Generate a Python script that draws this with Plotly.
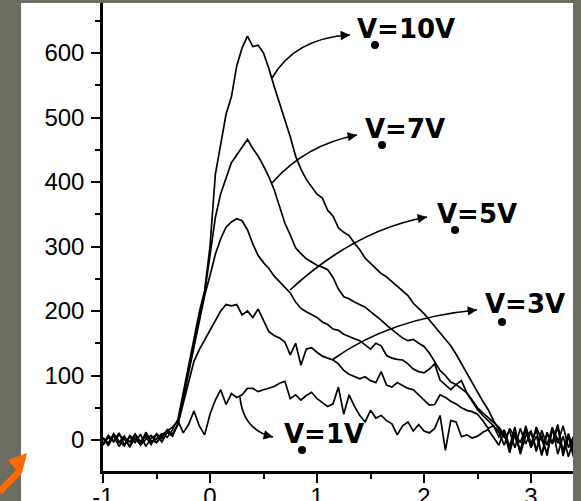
import numpy as np
import plotly.graph_objects as go

# ---------------- data ----------------
# shared sampling grid (x in the original units)
x = np.round(np.linspace(-1.0, 3.4, 89), 2)

v10 = [4, -9, 8, -4, 6, -11, 3, -7, 9, -3,
       2, 10, 4, 16, 32, 75, 115, 158, 198, 232,
       300, 412, 460, 505, 532, 580, 608, 626, 610, 612,
       600, 576, 548, 522, 494, 470, 440, 420, 404, 392,
       381, 375, 356, 347, 329, 322, 317, 305, 295, 282,
       274, 267, 258, 253, 246, 239, 231, 224, 212, 204,
       196, 186, 176, 166, 157, 146, 133, 118, 103, 88,
       75, 60, 47, 30, 16, 4, 14, -12, 18, -6,
       12, -18, 15, -8, 20, -22, 6, -26, 2]

v7 = [-6, 7, -2, 11, -8, 5, -4, 9, -10, 3,
      8, -3, 12, 6, 26, 68, 106, 146, 188, 228,
      290, 345, 382, 405, 430, 442, 455, 466, 452, 440,
      425, 408, 388, 360, 336, 318, 298, 289, 281, 276,
      271, 268, 264, 252, 234, 222, 219, 214, 210, 206,
      199, 193, 186, 178, 171, 165, 158, 154, 156, 150,
      145, 135, 122, 108, 100, 90, 86, 80, 73, 62,
      50, 42, 35, 28, 20, 8, -14, 12, -20, 22,
      -6, 16, -24, 9, -3, 24, -18, 5, -28]

v5 = [3, -5, 10, -2, -9, 7, 1, -6, 12, -1,
      -4, 6, 14, 9, 24, 64, 100, 140, 182, 224,
      255, 288, 312, 330, 338, 343, 340, 326, 304, 286,
      275, 266, 254, 245, 236, 228, 214, 204, 199, 195,
      190, 183, 179, 172, 170, 164, 160, 157, 154, 148,
      141, 150, 146, 131, 127, 125, 124, 118, 110, 106,
      104, 110, 118, 93, 85, 78, 86, 92, 73, 60,
      47, 38, 30, 22, 12, -8, 18, 4, -16, 14,
      -10, 20, 0, -20, 16, -5, 22, -12, 6]

v3 = [-8, 4, -3, 8, 1, -10, 9, -2, 5, -7,
      10, 2, 16, 8, 24, 58, 92, 122, 140, 155,
      170, 183, 200, 210, 208, 210, 194, 200, 190, 203,
      186, 168, 162, 158, 152, 132, 150, 116, 141, 143,
      136, 130, 127, 124, 118, 108, 102, 99, 95, 98,
      92, 89, 106, 85, 82, 89, 84, 80, 78, 70,
      62, 54, 55, 70, 66, 60, 56, 50, 46, 44,
      40, 30, 18, 22, 5, 16, -10, 20, -22, 6,
      14, -14, 8, -24, 18, 0, -16, 10, -20]

v1 = [2, -7, 6, -10, 4, -3, 9, -8, 1, 7,
      -4, 8, 14, 20, 30, 11, 24, 45, 22, 8,
      40, 62, 78, 55, 72, 66, 70, 80, 80, 75,
      78, 80, 83, 88, 91, 64, 70, 62, 69, 74,
      64, 58, 52, 56, 82, 40, 70, 52, 38, 28,
      46, 34, 38, 30, 25, 8, 22, 28, 14, 24,
      14, 11, 18, 38, -16, 30, 28, 5, 8, 3,
      6, 12, 16, 4, -8, 14, -20, 10, -4, 18,
      -12, 6, -22, 12, -6, 20, -25, 8, -15]

series = [("V=10V", v10), ("V=7V", v7), ("V=5V", v5), ("V=3V", v3), ("V=1V", v1)]
label_texts = ["V=10V", "V=7V", "V=5V", "V=3V", "V=1V"]
x_ticks = [-1, 0, 1, 2, 3]
x_ticktext = ["-1", "0", "1", "2", "3"]
y_ticks = [0, 100, 200, 300, 400, 500, 600]

# ---------------- geometry helpers (page pixels -> coords) ----------------
W, H = 581, 501
L, R, T, B = 103, 8, 3, 30
PW, PH = W - L - R, H - T - B
X0PX, XUNIT = 210.0, 107.0        # x=0 at px 210, 107 px per unit
Y0PX, YUNIT = 440.0, 0.645        # y=0 at py 440, 0.645 px per unit
xr = [(L - X0PX) / XUNIT, (W - R - X0PX) / XUNIT]
yr = [(Y0PX - (H - B)) / YUNIT, (Y0PX - T) / YUNIT]


def dx(px):
    return (px - X0PX) / XUNIT


def dy(py):
    return (Y0PX - py) / YUNIT


def px_(px):
    return (px - L) / PW


def py_(py):
    return (H - B - py) / PH


fig = go.Figure()
for name, ys in series:
    fig.add_trace(go.Scatter(x=x, y=ys, mode="lines", name=name,
                             line=dict(color="black", width=1.7),
                             showlegend=False, hoverinfo="skip"))

shapes = []
# white page region
shapes.append(dict(type="rect", xref="paper", yref="paper", layer="below",
                   x0=px_(21), x1=1.0, y0=py_(520), y1=1.0,
                   fillcolor="white", line=dict(width=0)))

# curved label arrows: (start px, control px, end px)
arrows = [((272, 78), (295, 38), (350, 35)),
          ((272, 183), (305, 145), (357, 135)),
          ((290, 290), (355, 230), (427, 217)),
          ((332, 360), (390, 318), (477, 310)),
          ((240, 397), (243, 430), (273, 437))]
labels_px = [(355, 29), (363, 129), (435, 214), (483, 304), (282, 434)]
dots_px = [(375, 45), (382, 145), (455, 230), (502, 322), (302, 450)]

annotations = []
for (s, c, e), (lx, ly), (ddx, ddy), txt in zip(arrows, labels_px, dots_px, label_texts):
    path = "M {},{} Q {},{} {},{}".format(dx(s[0]), dy(s[1]), dx(c[0]), dy(c[1]),
                                          dx(e[0]), dy(e[1]))
    shapes.append(dict(type="path", xref="x", yref="y", path=path,
                       line=dict(color="black", width=1.7)))
    tx, ty = e[0] - c[0], e[1] - c[1]
    n = (tx ** 2 + ty ** 2) ** 0.5
    annotations.append(dict(x=dx(e[0]), y=dy(e[1]), xref="x", yref="y", text="",
                            showarrow=True, arrowhead=2, arrowsize=1.1,
                            arrowwidth=1.7, arrowcolor="black",
                            ax=-10 * tx / n, ay=-10 * ty / n))
    annotations.append(dict(x=dx(lx), y=dy(ly), xref="x", yref="y",
                            text="<b>" + txt + "</b>", showarrow=False,
                            xanchor="left", yanchor="middle",
                            font=dict(family="DejaVu Sans", size=26, color="black")))
    shapes.append(dict(type="circle", xref="x", yref="y",
                       xsizemode="pixel", ysizemode="pixel",
                       xanchor=dx(ddx), yanchor=dy(ddy),
                       x0=-4, x1=4, y0=-4, y1=4,
                       fillcolor="black", line=dict(width=0)))

# orange pointer arrow at bottom-left
op = [(-4, 491), (16, 470), (8, 460), (27, 453), (22, 473), (2, 494)]
opath = "M " + " L ".join("{},{}".format(px_(a), py_(b)) for a, b in op) + " Z"
shapes.append(dict(type="path", xref="paper", yref="paper", path=opath,
                   fillcolor="#ff6a00", line=dict(width=0)))

axis_font = dict(family="Liberation Sans, Arial", size=24, color="black")
fig.update_layout(
    width=W, height=H,
    margin=dict(l=L, r=R, t=T, b=B, pad=0, autoexpand=False),
    paper_bgcolor="#6c6c61",
    plot_bgcolor="white",
    shapes=shapes,
    annotations=annotations,
    xaxis=dict(range=xr, tickmode="array", tickvals=x_ticks,
               ticktext=x_ticktext, automargin=False,
               ticks="outside", ticklen=9, tickwidth=2, tickcolor="black",
               minor=dict(tickmode="linear", tick0=-1, dtick=0.5, ticks="outside",
                          ticklen=5, tickwidth=1.5, tickcolor="black"),
               showline=True, linewidth=2.5, linecolor="black",
               showgrid=False, zeroline=False, tickfont=axis_font,
               ticklabelstandoff=-7),
    yaxis=dict(range=yr, tickmode="array", tickvals=y_ticks, automargin=False,
               ticks="outside", ticklen=9, tickwidth=2, tickcolor="black",
               minor=dict(tickmode="linear", tick0=0, dtick=50, ticks="outside",
                          ticklen=5, tickwidth=1.5, tickcolor="black"),
               showline=True, linewidth=2.5, linecolor="black",
               showgrid=False, zeroline=False, tickfont=axis_font,
               ticklabelstandoff=2),
)

fig.write_html("out.html")
